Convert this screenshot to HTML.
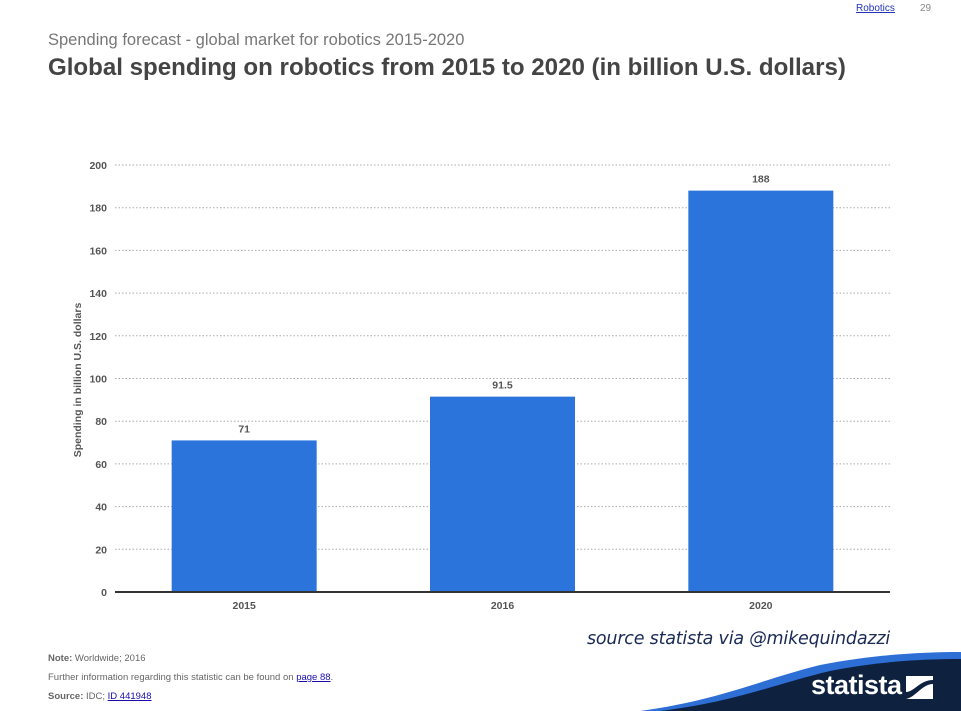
<!DOCTYPE html>
<html><head><meta charset="utf-8"><style>
body{margin:0;width:961px;height:711px;overflow:hidden;background:#fff;font-family:"Liberation Sans",Arial,sans-serif;position:relative}
.a{position:absolute;white-space:nowrap}
a{color:#1a0dab}
</style></head><body>
<div class="a" style="left:856px;top:3px;font-size:10px;"><a href="#" style="color:#2233bb">Robotics</a></div>
<div class="a" style="left:920px;top:3px;font-size:10px;color:#888">29</div>
<div class="a" style="left:48px;top:31px;font-size:16.5px;color:#777">Spending forecast - global market for robotics 2015-2020</div>
<div class="a" style="left:48px;top:54px;font-size:24.1px;font-weight:bold;color:#444">Global spending on robotics from 2015 to 2020 (in billion U.S. dollars)</div>
<svg id="chart" class="a" style="left:0;top:0" width="961" height="711"></svg>
<div class="a" style="left:587px;top:629px;font-size:17.5px;font-style:italic;color:#1a2a55;font-family:'DejaVu Sans',sans-serif;letter-spacing:-0.2px">source statista via @mikequindazzi</div>
<svg class="a" style="left:0;top:0" width="961" height="711">
<path d="M640,711 C720,700 760,680 820,665 C870,655 920,652 961,652 L961,711 Z" fill="#2e6fd6"/>
<path d="M660,711 C735,702 775,684 830,671 C880,661 925,659 961,659 L961,711 Z" fill="#0e2240"/>
</svg>
<div class="a" style="left:811px;top:670px;font-size:27px;font-weight:bold;color:#fff;letter-spacing:-0.5px;font-family:'Liberation Sans Narrow','Liberation Sans',sans-serif">statista</div>
<svg class="a" style="left:906px;top:676px" width="27" height="23"><rect width="27" height="23" fill="#fff"/><path d="M0,23 L0,16 C8,16 14,4 27,4 L27,8 C16,8 10,21 0,23Z" fill="#0e2240"/></svg>
<div class="a" style="left:48px;top:653px;font-size:9.5px;color:#666"><b>Note:</b> Worldwide; 2016</div>
<div class="a" style="left:48px;top:672px;font-size:9.5px;color:#666">Further information regarding this statistic can be found on <a href="#">page 88</a>.</div>
<div class="a" style="left:48px;top:691px;font-size:9.5px;color:#666"><b>Source:</b> IDC; <a href="#">ID 441948</a></div>
<script>
const categories=["2015","2016","2020"];
const values=[71,91.5,188];
const valueLabels=["71","91.5","188"];
const yTicks=[0,20,40,60,80,100,120,140,160,180,200];
const svg=document.getElementById('chart');
const NS='http://www.w3.org/2000/svg';
const x0=115,x1=890,y0=592,yTop=165,yMax=200;
const y=v=>y0-(v/yMax)*(y0-yTop);
const band=(x1-x0)/categories.length;
const xc=i=>x0+band*(i+0.5);
const bw=145;
function mk(t,a,txt){const e=document.createElementNS(NS,t);for(const k in a)e.setAttribute(k,a[k]);if(txt!==undefined)e.textContent=txt;svg.appendChild(e);return e;}
yTicks.forEach(t=>{
 if(t>0){const g=mk('line',{x1:x0,x2:x1,y1:y(t),y2:y(t),stroke:'#aaa','stroke-dasharray':'1.5,2','stroke-width':1});
 
 }
 const l=mk('text',{x:107,y:y(t)+4,'text-anchor':'end','font-size':10.5,'font-weight':'bold',fill:'#555','font-family':'Liberation Sans'},String(t));
 
 
});
categories.forEach((c,i)=>{
 const b=mk('rect',{x:xc(i)-bw/2,y:y(values[i]),width:bw,height:y0-y(values[i]),fill:'#2a74db'});
 
 
 const v=mk('text',{x:xc(i),y:y(values[i])-8,'text-anchor':'middle','font-size':10.5,'font-weight':'bold',fill:'#555','font-family':'Liberation Sans'},valueLabels[i]);
 
 
 const xl=mk('text',{x:xc(i),y:y0+17,'text-anchor':'middle','font-size':10.5,'font-weight':'bold',fill:'#555','font-family':'Liberation Sans'},c);
 
 
});
const ax=mk('line',{x1:x0,x2:x1,y1:y0,y2:y0,stroke:'#333','stroke-width':2});


const yt=mk('text',{x:0,y:0,transform:'translate(81,380) rotate(-90)','text-anchor':'middle','font-size':10.5,'font-weight':'bold',fill:'#555','font-family':'Liberation Sans'},'Spending in billion U.S. dollars');


</script>
</body></html>
